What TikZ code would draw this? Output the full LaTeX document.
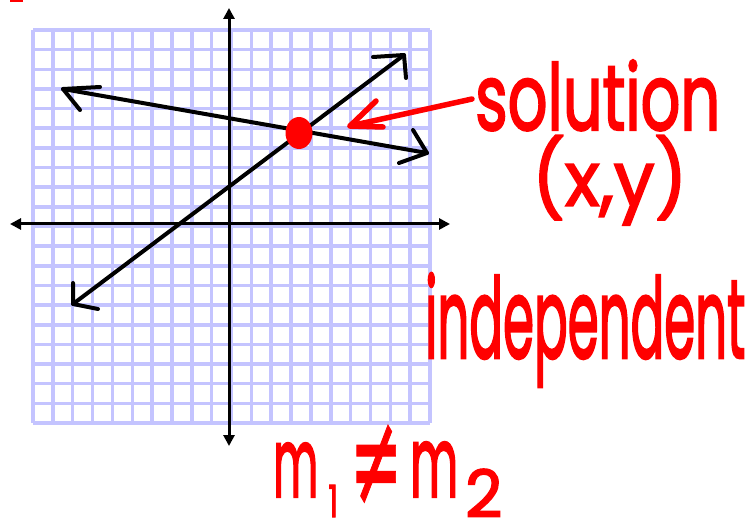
\documentclass[tikz,border=0pt]{standalone}
\usepackage{fontspec}
\setmainfont{Poppins}
\newfontfamily\handfont{Poppins}[FakeBold=2.5]
\newfontfamily\symfont{DejaVu Sans}[FakeBold=1]
\usetikzlibrary{arrows.meta}
\definecolor{gridblue}{RGB}{196,196,255}
\definecolor{ink}{RGB}{255,0,0}
\begin{document}
\begin{tikzpicture}[x=1pt,y=-1pt,
  gridline/.style={draw=gridblue,line width=3.5pt},
  axis/.style={line width=3pt,{Triangle[length=11pt,width=11pt]}-{Triangle[length=11pt,width=11pt]}},
  pen/.style={line width=4pt,line cap=round,line join=round},
  redpen/.style={draw=ink,line width=5.5pt,line cap=round,line join=round},
  hand/.style={text=ink,inner sep=0pt,font=\handfont}]
\useasboundingbox (0,0) rectangle (752,521);
% corner mark
\fill[ink] (10,0) rectangle (23,2);
% grid
\foreach \i in {0,...,20} {
  \draw[gridline] ({33+\i*19.85},30) -- ({33+\i*19.85},423);
  \draw[gridline] (33,{30+\i*19.65}) -- (430,{30+\i*19.65});
}
% axes
\coordinate (xl) at (10,224); \coordinate (xr) at (450,224);
\coordinate (yt) at (229,8);  \coordinate (yb) at (229,446);
\draw[axis] (xl) -- (xr);
\draw[axis] (yt) -- (yb);
% line 1
\coordinate (a1) at (63,89);  \coordinate (a1u) at (100,87); \coordinate (a1d) at (80,110);
\coordinate (b1) at (427,153); \coordinate (b1u) at (413,130); \coordinate (b1d) at (399,163);
\draw[pen] (a1) -- (b1);
\draw[pen] (a1u) -- (a1) -- (a1d);
\draw[pen] (b1u) -- (b1) -- (b1d);
% line 2
\coordinate (a2) at (73,304);  \coordinate (a2u) at (73,283); \coordinate (a2d) at (98,309);
\coordinate (b2) at (404,55); \coordinate (b2u) at (373,57); \coordinate (b2d) at (406,78);
\draw[pen] (a2) -- (b2);
\draw[pen] (a2u) -- (a2) -- (a2d);
\draw[pen] (b2u) -- (b2) -- (b2d);
% intersection dot
\fill[ink] (299,133) ellipse [x radius=13.5, y radius=16];
% red arrow
\coordinate (rs) at (472,99); \coordinate (rt) at (350,126);
\coordinate (ru) at (376,101); \coordinate (rd) at (383,127);
\draw[redpen] (rs) -- (rt);
\draw[redpen] (ru) -- (rt) -- (rd);
% texts
\node[hand,anchor=base west] (sol) at (475,130) {\resizebox{245pt}{70pt}{solution}};
\node[hand,anchor=north west] (xy) at (532,135) {\resizebox*{155pt}{90pt}{(x,y)}};
\node[hand,anchor=base west] (ind) at (425,358) {\resizebox{320pt}{85pt}{independent}};
\node[hand,anchor=base west] (slope) at (273,497) {\resizebox{45pt}{54pt}{m}\hspace{10pt}\raisebox{-20pt}{\resizebox{10pt}{32pt}{1}}\hspace{12pt}\raisebox{-8pt}{\resizebox{52pt}{80pt}{\symfont ≠}}\hspace{8pt}\resizebox{48pt}{55pt}{m}\hspace{7pt}\raisebox{-20pt}{\resizebox{37pt}{48pt}{2}}};
\end{tikzpicture}
\end{document}
